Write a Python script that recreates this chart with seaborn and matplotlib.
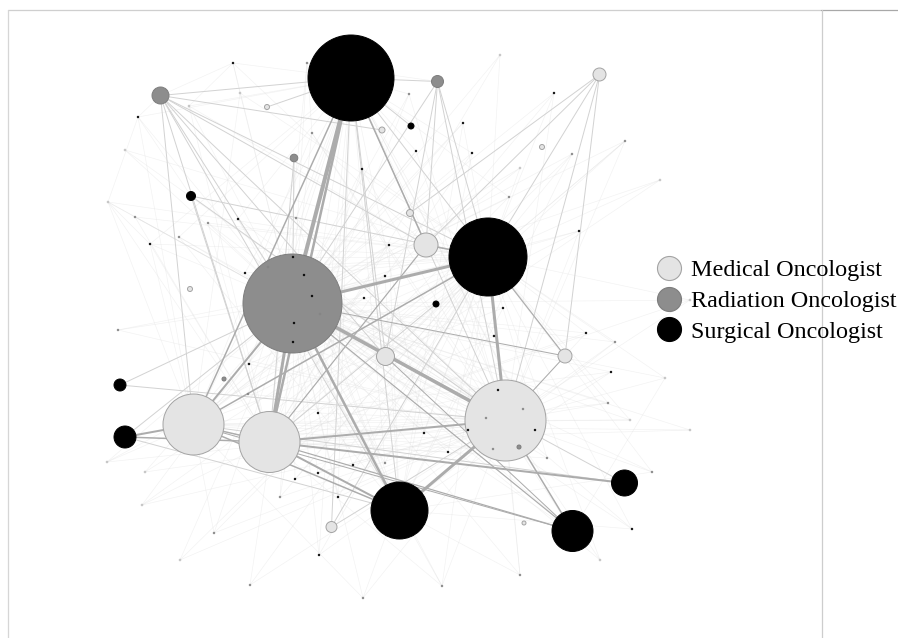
import numpy as np
import pandas as pd
import seaborn as sns
import matplotlib
matplotlib.use("Agg")
import matplotlib.pyplot as plt
from matplotlib.collections import LineCollection
from matplotlib.lines import Line2D

# ---------------------------------------------------------------------------
# Referral network: oncologists, their layout position, case volume and role
# ---------------------------------------------------------------------------
node_names = [
    "S1", "S2", "R1", "M1", "M2", "M3", "S3", "S4", "S5", "S6", "S7",
    "R2", "R3", "M4", "M5", "M6", "M7", "M8", "R4", "S8", "S9", "S10",
    "M9", "M10", "M11", "M12", "M13", "R5", "R6", "M14",
    "t01", "t02", "t03", "t04", "t05", "t06", "t07", "t08", "t09", "t10",
    "t11", "t12", "t13", "t14", "t15", "t16", "t17", "t18", "t19", "t20",
    "t21", "t22", "t23", "t24", "t25", "t26", "t27", "t28", "t29", "t30",
    "t31", "t32", "t33", "t34", "t35", "t36", "t37", "t38", "t39", "t40",
    "t41", "t42", "t43", "t44", "t45", "t46", "t47", "t48", "t49", "t50",
    "t51", "t52", "t53", "t54", "t55", "t56", "t57", "t58", "t59", "t60",
    "t61", "t62", "t63", "t64", "t65", "t66", "t67", "t68", "t69", "t70",
    "t71", "t72", "t73", "t74", "t75", "t76", "t77", "t78", "t79", "t80",
]
node_x = [
    351, 488, 292.5, 505.5, 193.5, 269.5, 399.5, 572.5, 624.5, 125, 120,
    160.5, 437.5, 599.5, 426, 385.5, 565, 331.5, 294, 191, 411, 436,
    410, 382, 542, 267, 190, 519, 224, 524,
    138, 233, 307, 150, 108, 135, 179, 208, 238, 296,
    362, 312, 416, 189, 240, 409, 463, 554, 625, 572,
    579, 472, 520, 509, 586, 615, 611, 608, 630, 665,
    652, 547, 503, 494, 424, 448, 249, 248, 318, 338,
    280, 319, 214, 142, 107, 385, 353, 442, 363, 295,
    318, 632, 145, 245, 389, 385, 364, 293, 268, 304,
    312, 294, 320, 293, 498, 523, 486, 468, 535, 493,
    520, 600, 250, 180, 118, 125, 690, 690, 660, 500,
]
node_y = [
    78, 257, 303.5, 420.5, 424.5, 442, 510.5, 531, 483, 437, 385,
    95.5, 81.5, 74.5, 245, 356.5, 356, 527, 158, 196, 126, 304,
    213, 130, 147, 107, 289, 447, 379, 523,
    117, 63, 63, 244, 202, 217, 237, 223, 219, 218,
    169, 133, 151, 106, 93, 94, 123, 93, 141, 154,
    231, 153, 168, 197, 333, 342, 372, 403, 420, 378,
    472, 458, 308, 336, 433, 452, 364, 394, 413, 497,
    497, 555, 533, 505, 462, 463, 465, 586, 598, 479,
    473, 529, 472, 273, 245, 276, 298, 257, 267, 275,
    296, 323, 314, 342, 390, 409, 418, 430, 430, 449,
    575, 560, 585, 560, 330, 150, 300, 430, 180, 55,
]
# node radius (px) scales with referral volume
node_radius = [
    43, 39, 49.5, 40.5, 30.5, 30.5, 28.5, 20.5, 13, 11, 6,
    8.5, 6, 6.5, 12, 9, 7, 5.5, 3.8, 4.5, 3, 3,
    3.5, 3, 2.5, 2.5, 2.5, 2, 2, 2,
] + [1.0] * 80
node_role = list("SSRMMMSSSSSRRMMMMMRSSSMMMMMRRM") + list(
    "SSRSMRRRSR" "SRSMMRSSRR" "SSMRSRSRMM" "RRSSSSSRSS"
    "RSRMMRSRRS" "SSMSSSSSRS" "SSRSSRRSSR" "RMRMRMMMMM"
)
role_label = {"M": "Medical Oncologist", "R": "Radiation Oncologist",
              "S": "Surgical Oncologist"}

# strong referral ties: (from, to, volume -> line width px)
strong_ties = [
    ("S1", "R1", 4.0), ("S1", "M3", 2.5), ("S1", "M2", 1.5),
    ("R1", "S2", 3.0), ("R1", "M1", 3.5), ("S2", "M1", 3.0),
    ("R1", "M3", 3.0), ("R1", "M2", 2.0), ("R1", "S3", 2.5),
    ("S3", "M1", 3.0), ("M3", "S3", 2.0), ("M2", "S3", 1.5),
    ("M2", "S6", 2.0), ("M3", "M1", 2.0), ("M3", "S5", 2.0),
    ("M2", "S2", 1.5), ("S1", "M5", 1.5), ("M2", "M3", 1.5),
    ("S6", "M3", 1.5), ("M3", "S4", 1.2), ("M2", "S4", 1.0),
    ("M1", "S4", 1.5), ("R1", "S4", 1.2), ("M6", "S4", 1.0),
    ("R1", "M7", 1.0), ("S2", "M7", 1.0), ("M7", "M1", 1.0),
    ("M5", "S2", 1.5), ("M3", "M5", 1.2),
]

# ordinary referral ties
regular_ties = {
    "R2": "S1 M10 R1 M2 M3 S2 M1 M6 S3 M5",
    "R3": "S1 M5 S2 M1 R1 M6",
    "M4": "S2 M1 M9 M5 M7",
    "S1": "S3 M1 M6 M7 S9 M12",
    "S8": "M1 S2 M3",
    "M8": "S1 S2 M1",
    "S7": "M1 R1",
    "S5": "M2 R1",
    "S6": "R1 S3",
    "S10": "M3",
    "R4": "R1 M3",
}

# occasional referral ties of low-volume contacts
weak_ties = {
    "t01": "R2 S1 R1 M2 S8 t05", "t02": "S1 R2 R1 M5 t14 t15",
    "t03": "S1 R3 R1 M3 t12", "t04": "R1 M2 S1 M3 S2",
    "t05": "R1 M2 M3 S2 M1 t04", "t06": "R1 S2 M3 M1",
    "t07": "R1 M1 S1 S3", "t08": "R1 S2 M6 M3", "t09": "S1 R1 M1 S3",
    "t10": "S1 M2 S3 M1", "t11": "R1 M3 S2 M1", "t12": "R1 M1 S4 M2",
    "t13": "S1 R1 M2 M1", "t14": "S1 R1 M5 M3", "t15": "R1 S2 M2",
    "t16": "R1 M3 S1 M1", "t17": "R1 M2 S2 S3", "t18": "S2 R1 M5 M1",
    "t19": "S2 M1 R1 M6 M3", "t20": "R1 M3 S3 S2", "t21": "R1 S2 M2 M1",
    "t22": "M3 S3 R1 S1", "t23": "S2 M2 R1", "t24": "R1 M3 S1",
    "t25": "R1 M3 S2 M1", "t26": "M1 S2 R1 S3", "t27": "R1 M1 S3 M2",
    "t28": "M1 S2 M3 R1", "t29": "R1 M2 S2 M1", "t30": "M1 S2 R1 S4",
    "t31": "M1 S3 R1 S2", "t32": "R1 M3 S2", "t33": "R1 M2 S3",
    "t34": "M3 S1 R1", "t35": "R1 S1 M2 S2", "t36": "R1 M3 S2",
    "t37": "S1 S2 M1", "t38": "S2 M1 S1", "t39": "S1 S2 M1",
    "t40": "R1 S1 M1 S2", "t41": "R1 S2 M1 S1", "t42": "R1 M1 S2 S1",
    "t43": "R1 S2 M1 M2", "t44": "R1 S2 M1 M3", "t45": "R1 S2 M1 M2",
    "t46": "R1 S2 S1", "t47": "R1 M1 S2", "t48": "R1 M3 S2 M1 S3",
    "t49": "R1 M2 S2 M1", "t50": "R1 M1 S2", "t51": "R1 S2 M1",
    "t52": "M1 S2 R1 S3", "t53": "S2 R1 M1", "t54": "S2 M1 S1",
    "t55": "M3 R1 M2 S3", "t56": "M2 R1 S3", "t57": "M2 R1 M1",
    "t58": "S2 M1 S3", "t59": "S2 M1", "t60": "M1 S3 S2",
    "t61": "S2 M1", "t62": "M1 S3", "t63": "S2 S4", "t64": "M1 S3 S4",
    "t65": "R1 S1 M3", "t66": "R1 M3 S1", "t67": "R1 M2", "t68": "R1 M3",
    "t69": "R1 S1", "t70": "R1 M2 M3", "t71": "R1 S2 M1 M3",
    "t72": "M1 S2 R1", "t73": "R1 S2 M1", "t74": "R1 S2 M1",
    "t75": "S2 M1 R1", "t76": "R1 S2 M1", "t77": "R1 M3 S2 M1",
    "t78": "R1 M3 M2", "t79": "R1 S2 M3", "t80": "R1 S2 M3",
}

# ---------------------------------------------------------------------------
W, H, DPI = 898, 638, 100
sns.set_theme(style="white")
plt.rcParams["font.family"] = ["Liberation Serif", "DejaVu Serif"]

fig = plt.figure(figsize=(W / DPI, H / DPI), dpi=DPI)
ax = fig.add_axes([0, 0, 1, 1])
ax.set_xlim(0, W)
ax.set_ylim(H, 0)
ax.set_axis_off()

nodes = pd.DataFrame({"name": node_names, "x": node_x, "y": node_y,
                      "radius": node_radius, "role": node_role})
pos = {n: (x, y) for n, x, y in zip(nodes["name"], nodes["x"], nodes["y"])}


def segments(pairs):
    return [[pos[a], pos[b]] for a, b in pairs]


weak_pairs = [(a, b) for a, tgts in weak_ties.items() for b in tgts.split()]
ax.add_collection(LineCollection(segments(weak_pairs), colors="#dedede",
                                 linewidths=0.45, alpha=0.4, zorder=1))

regular_pairs = [(a, b) for a, tgts in regular_ties.items() for b in tgts.split()]
ax.add_collection(LineCollection(segments(regular_pairs), colors="#d2d2d2",
                                 linewidths=0.7, zorder=2))

ax.add_collection(LineCollection(segments([(a, b) for a, b, _ in strong_ties]),
                                 colors="#acacac",
                                 linewidths=[w * 0.72 for _, _, w in strong_ties],
                                 zorder=2.5))

face = {"M": "#e4e4e4", "R": "#8d8d8d", "S": "#000000"}
edge = {"M": "#a3a3a3", "R": "#7d7d7d", "S": "#000000"}

nodes = nodes.sort_values("radius", ascending=False).reset_index(drop=True)
marker_area = (2 * nodes["radius"] * 72 / DPI) ** 2
line_w = np.where(nodes["radius"] > 1.5, 0.7, 0.3)
sns.scatterplot(data=nodes, x="x", y="y", hue="role", palette=face,
                s=marker_area, edgecolor=[edge[r] for r in nodes["role"]],
                linewidth=line_w, legend=False, ax=ax, zorder=3)

handles = [Line2D([], [], linestyle="none", marker="o", markersize=17.3,
                  markerfacecolor=face[k], markeredgecolor=edge[k],
                  markeredgewidth=0.8) for k in "MRS"]
ax.legend(handles, [role_label[k] for k in "MRS"], loc="center left",
          bbox_to_anchor=(658 / W, 1 - 301 / H), frameon=False,
          fontsize=17.4, labelcolor="black", handlelength=0.95,
          handletextpad=0.42, labelspacing=0.36, borderpad=0,
          borderaxespad=0)

# panel frame
def frame_line(x0, y0, x1, y1, color):
    fig.add_artist(Line2D([x0 / W, x1 / W], [1 - y0 / H, 1 - y1 / H],
                          color=color, linewidth=0.9, zorder=0))


frame_line(7.5, 9.5, 821, 9.5, "#cfcfcf")
frame_line(821, 9.5, 898, 9.5, "#a8a8a8")
frame_line(7.5, 9.5, 7.5, 638, "#d6d6d6")
frame_line(821.5, 9.5, 821.5, 638, "#cdcdcd")

fig.savefig("out.png", dpi=DPI)
